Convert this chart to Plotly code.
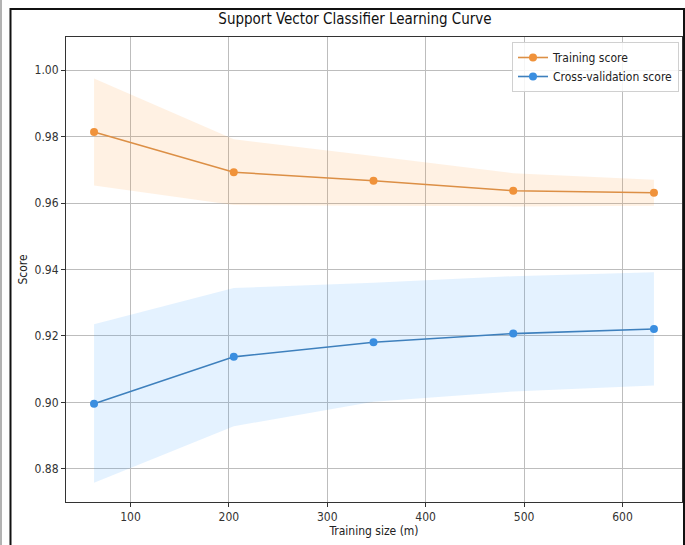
import plotly.graph_objects as go

# ---- data ----
train_sizes = [63, 205, 347, 489, 632]
train_mean = [0.9814, 0.9693, 0.9667, 0.9637, 0.9631]
train_upper = [0.9975, 0.9792, 0.9742, 0.9690, 0.9670]
train_lower = [0.9653, 0.9594, 0.9592, 0.9590, 0.9592]
cv_mean = [0.8996, 0.9137, 0.9181, 0.9207, 0.9221]
cv_upper = [0.9235, 0.9344, 0.9360, 0.9380, 0.9392]
cv_lower = [0.8758, 0.8928, 0.9002, 0.9033, 0.9051]
x_ticks = [100, 200, 300, 400, 500, 600]
y_ticks = [0.88, 0.90, 0.92, 0.94, 0.96, 0.98, 1.00]

FONT = "DejaVu Sans Condensed, Liberation Sans Narrow, DejaVu Sans"
W, H = 685, 545
L, R, T, B = 66, 3, 37, 43

fig = go.Figure()

# bands
fig.add_trace(go.Scatter(x=train_sizes, y=train_upper, mode="lines",
                         line=dict(width=0), showlegend=False, hoverinfo="skip"))
fig.add_trace(go.Scatter(x=train_sizes, y=train_lower, mode="lines",
                         line=dict(width=0), fill="tonexty",
                         fillcolor="rgba(255,145,36,0.13)", showlegend=False, hoverinfo="skip"))
fig.add_trace(go.Scatter(x=train_sizes, y=cv_upper, mode="lines",
                         line=dict(width=0), showlegend=False, hoverinfo="skip"))
fig.add_trace(go.Scatter(x=train_sizes, y=cv_lower, mode="lines",
                         line=dict(width=0), fill="tonexty",
                         fillcolor="rgba(36,146,255,0.12)", showlegend=False, hoverinfo="skip"))

# mean curves
fig.add_trace(go.Scatter(x=train_sizes, y=train_mean, mode="lines+markers",
                         name="Training score",
                         line=dict(color="#dc8f45", width=1.6),
                         marker=dict(color="#f0923a", size=8)))
fig.add_trace(go.Scatter(x=train_sizes, y=cv_mean, mode="lines+markers",
                         name="Cross-validation score",
                         line=dict(color="#3e80bd", width=1.6),
                         marker=dict(color="#3a8ee0", size=8)))

pw = W - L - R
ph = H - T - B


def px_to_paper_x(px):
    return (px - L) / pw


def px_to_paper_y(py):
    return (H - B - py) / ph


# outer frame like the screenshot border
fig.add_shape(type="rect", xref="paper", yref="paper",
              x0=px_to_paper_x(10.5), x1=px_to_paper_x(684),
              y0=px_to_paper_y(548), y1=px_to_paper_y(9),
              line=dict(color="#111111", width=2), layer="above")
fig.add_shape(type="line", xref="paper", yref="paper",
              x0=px_to_paper_x(1), x1=px_to_paper_x(1),
              y0=px_to_paper_y(548), y1=px_to_paper_y(0),
              line=dict(color="#666666", width=1), layer="above")

fig.update_layout(
    width=W, height=H,
    margin=dict(l=L, r=R, t=T, b=B, pad=0),
    paper_bgcolor="white", plot_bgcolor="white",
    font=dict(family=FONT, size=12, color="#222222"),
    title=dict(text="Support Vector Classifier Learning Curve",
               x=px_to_paper_x(355), xref="paper", xanchor="center",
               y=1 - 19 / H, yref="container", yanchor="middle",
               font=dict(family=FONT, size=15, color="#111111")),
    xaxis=dict(range=[34.5, 660.5], tickvals=x_ticks,
               showgrid=True, gridcolor="#bdbdbd", gridwidth=1,
               zeroline=False, showline=True, linecolor="#333333", linewidth=1,
               mirror=True, ticks="outside", ticklen=4, tickcolor="#333333",
               tickfont=dict(size=12, color="#333333"),
               title=dict(text="Training size (m)", font=dict(size=12, color="#222222"),
                          standoff=2)),
    yaxis=dict(range=[0.87, 1.01], tickvals=y_ticks,
               ticktext=[f"{v:.2f}" for v in y_ticks],
               showgrid=True, gridcolor="#bdbdbd", gridwidth=1,
               zeroline=False, showline=True, linecolor="#333333", linewidth=1,
               mirror=True, ticks="outside", ticklen=4, tickcolor="#333333",
               tickfont=dict(size=12, color="#333333"),
               title=dict(text="Score", font=dict(size=12, color="#222222"),
                          standoff=4)),
    legend=dict(x=px_to_paper_x(512), y=px_to_paper_y(42), xanchor="left", yanchor="top",
                traceorder="normal",
                bgcolor="rgba(255,255,255,0.85)", bordercolor="#d0d0d0", borderwidth=1,
                font=dict(family=FONT, size=12, color="#222222"),
                itemwidth=30, tracegroupgap=0),
)

fig.write_html("out.html")
